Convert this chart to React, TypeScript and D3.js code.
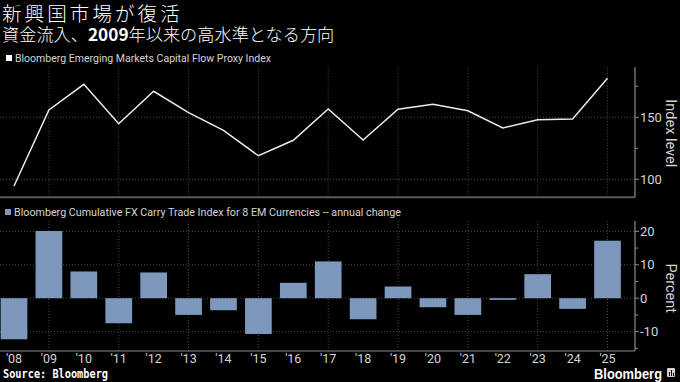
import React from "react";
import * as d3 from "d3";

const years = ["2008","2009","2010","2011","2012","2013","2014","2015","2016","2017","2018","2019","2020","2021","2022","2023","2024","2025"];
const yearLabels = ["'08","'09","'10","'11","'12","'13","'14","'15","'16","'17","'18","'19","'20","'21","'22","'23","'24","'25"];
const flowIndex = [94.6, 155.9, 176.6, 144.8, 171.0, 153.7, 139.4, 119.0, 131.5, 156.7, 131.7, 156.5, 160.5, 155.3, 141.4, 148.1, 148.6, 181.5];
const carryChange = [-12.3, 20.1, 8.0, -7.5, 7.7, -5.0, -3.6, -10.7, 4.6, 11.0, -6.3, 3.5, -2.7, -5.0, -0.5, 7.2, -3.2, 17.2];
const topTicks = [100, 150];
const topMinor = [125, 175];
const botTicks = [-10, 0, 10, 20];
const botMinor = [-15, -5, 5, 15];
const gridYears = ["2009","2011","2013","2015","2017","2019","2021","2023","2025"];

const title = "新興国市場が復活";
const subA = "資金流入、";
const subB = "2009";
const subC = "年以来の高水準となる方向";
const legend1 = "Bloomberg Emerging Markets Capital Flow Proxy Index";
const legend2 = "Bloomberg Cumulative FX Carry Trade Index for 8 EM Currencies -- annual change";

const BAR = "#7d97bd";
const GRID = "#4a4a4a";
const AXIS = "#8c8c8c";
const TXT = "#d4d4d4";
const NARROW = "'Liberation Sans Narrow', 'Roboto', 'DejaVu Sans', sans-serif";
const CJK = "'Noto Sans CJK JP', 'Noto Sans', sans-serif";

export default function App() {
  const W = 680, H = 382;
  const axisX = 635;
  const x = d3.scalePoint<string>().domain(years).range([14, 607.5]);
  const barW = x.step() * 0.765;

  const yTop = d3.scaleLinear().domain([85.5, 190.3]).range([197.3, 67.3]);
  const yBot = d3.scaleLinear().domain([-15.8, 23.1]).range([351, 221]);

  const line = d3.line<number>()
    .x((_, i) => x(years[i]) as number)
    .y((d) => yTop(d));

  const [t0, t1] = yTop.range();
  const [b0, b1] = yBot.range();

  return (
    <svg width={W} height={H} style={{ position: "absolute", left: 0, top: 0, display: "block", background: "#000" }}>
      <rect x={0} y={0} width={W} height={H} fill="#000" />
      {/* Titles */}
      <text x={2} y={20.5} fill="#fff" fontFamily={CJK} fontSize={19.5} fontWeight={300} letterSpacing={3.1}>{title}</text>
      <text x={2} y={40.5} fill="#fff" fontFamily={CJK} fontSize={17.2} fontWeight={300}>
        <tspan>{subA}</tspan>
        <tspan fontWeight="bold">{subB}</tspan>
        <tspan>{subC}</tspan>
      </text>

      {/* Legend 1 */}
      <rect x={6} y={55} width={6} height={6} fill="#fff" />
      <text x={15} y={62} fill={TXT} fontFamily={NARROW} fontSize={11.5} textLength={256} lengthAdjust="spacingAndGlyphs">{legend1}</text>

      {/* Top panel grid */}
      {gridYears.map((yr) => (
        <line key={"vt" + yr} x1={x(yr)} x2={x(yr)} y1={t1} y2={t0} stroke={GRID} strokeDasharray="1,2" />
      ))}
      {topTicks.map((v) => (
        <line key={"ht" + v} x1={0} x2={axisX} y1={yTop(v)} y2={yTop(v)} stroke={GRID} strokeDasharray="1,2" />
      ))}
      <path d={line(flowIndex) || ""} fill="none" stroke="#ececec" strokeWidth={1.5} />
      <line x1={0} x2={axisX} y1={t0} y2={t0} stroke="#5a5a5a" strokeWidth={2} />
      <line x1={axisX} x2={axisX} y1={t1} y2={t0} stroke={AXIS} strokeWidth={1.2} />
      {topTicks.map((v) => (
        <g key={"tt" + v}>
          <line x1={axisX} x2={axisX + 4} y1={yTop(v)} y2={yTop(v)} stroke={AXIS} />
          <text x={axisX + 5} y={yTop(v) + 4.5} fill={TXT} fontFamily={NARROW} fontSize={13}>{v}</text>
        </g>
      ))}
      {topMinor.map((v) => (
        <line key={"tm" + v} x1={axisX} x2={axisX + 3} y1={yTop(v)} y2={yTop(v)} stroke={AXIS} />
      ))}
      <text transform={`translate(665.5,${(t0 + t1) / 2 + 1}) rotate(90)`} textAnchor="middle" fill={TXT} fontFamily={NARROW} fontSize={14.5}>Index level</text>

      {/* Legend 2 */}
      <rect x={5} y={209} width={6} height={6} fill={BAR} />
      <text x={14} y={216} fill={TXT} fontFamily={NARROW} fontSize={11.5} textLength={387} lengthAdjust="spacingAndGlyphs">{legend2}</text>

      {/* Bottom panel grid */}
      {gridYears.map((yr) => (
        <line key={"vb" + yr} x1={x(yr)} x2={x(yr)} y1={b1} y2={b0} stroke={GRID} strokeDasharray="1,2" />
      ))}
      {botTicks.map((v) => (
        <line key={"hb" + v} x1={0} x2={axisX} y1={yBot(v)} y2={yBot(v)} stroke={GRID} strokeDasharray="1,2" />
      ))}
      {carryChange.map((v, i) => (
        <rect key={"bar" + i}
          x={(x(years[i]) as number) - barW / 2}
          y={yBot(Math.max(0, v))}
          width={barW}
          height={Math.abs(yBot(v) - yBot(0))}
          fill={BAR} />
      ))}
      <line x1={0} x2={axisX} y1={b0} y2={b0} stroke={AXIS} strokeWidth={1.2} />
      <line x1={axisX} x2={axisX} y1={b1} y2={b0} stroke={AXIS} strokeWidth={1.2} />
      {botTicks.map((v) => (
        <g key={"bt" + v}>
          <line x1={axisX} x2={axisX + 4} y1={yBot(v)} y2={yBot(v)} stroke={AXIS} />
          <text x={axisX + 5} y={yBot(v) + 4.5} fill={TXT} fontFamily={NARROW} fontSize={13}>{v < 0 ? "-" + Math.abs(v) : v}</text>
        </g>
      ))}
      {botMinor.map((v) => (
        <line key={"bm" + v} x1={axisX} x2={axisX + 3} y1={yBot(v)} y2={yBot(v)} stroke={AXIS} />
      ))}
      <text transform={`translate(665.5,${yBot(3)}) rotate(90)`} textAnchor="middle" fill={TXT} fontFamily={NARROW} fontSize={14.5}>Percent</text>

      {yearLabels.map((lab, i) => (
        <text key={"xl" + i} x={x(years[i])} y={363} textAnchor="middle" fill={TXT} fontFamily={NARROW} fontSize={12.5}>{lab}</text>
      ))}

      {/* Footer */}
      <text x={3} y={378} fill="#fff" fontFamily="'DejaVu Sans Mono', monospace" fontWeight="bold" fontSize={11.5} textLength={105} lengthAdjust="spacingAndGlyphs">Source: Bloomberg</text>
      <text x={594} y={378.5} fill="#fff" fontFamily="'Liberation Sans', Arial, sans-serif" fontWeight="bold" fontSize={14} textLength={68} lengthAdjust="spacingAndGlyphs">Bloomberg</text>
      <rect x={667} y={368} width={8} height={9} fill="#d0d0d0" rx={1} />
      <line x1={669.5} x2={669.5} y1={372} y2={376} stroke="#000" strokeWidth={1} />
      <line x1={671.5} x2={671.5} y1={370} y2={376} stroke="#000" strokeWidth={1} />
      <line x1={673.5} x2={673.5} y1={373} y2={376} stroke="#000" strokeWidth={1} />
    </svg>
  );
}
